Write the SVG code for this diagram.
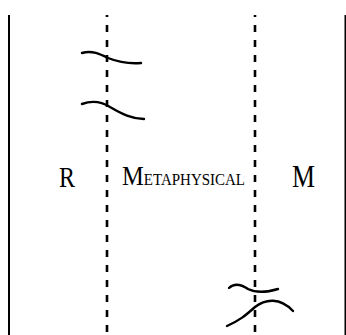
<svg xmlns="http://www.w3.org/2000/svg" width="346" height="335" viewBox="0 0 346 335">
<style>
.solid{stroke:#000;stroke-width:2;fill:none}
.dash{stroke:#000;stroke-width:2.6;fill:none;stroke-dasharray:7 8;stroke-dashoffset:5}
.wave{stroke:#000;stroke-width:2.4;fill:none;stroke-linecap:round}
text{font-family:"Liberation Serif","Times New Roman",serif;fill:#000}
</style>
<rect width="346" height="335" fill="#fff"/>
<g id="borders">
<line id="left-border" class="solid" x1="9" y1="15" x2="9" y2="335"/>
<line id="right-border" class="solid" x1="345.5" y1="15" x2="345.5" y2="335"/>
</g>
<g id="connectors">
<line class="dash" x1="107" y1="15" x2="107" y2="335"/>
<line class="dash" x1="255" y1="15" x2="255" y2="335"/>
<path class="wave" d="M82,53 C92,50 100,54 108,58 C118,62 128,64 141,63"/>
<path class="wave" d="M82,104 C93,100 102,102 110,107 C122,114 132,119 144,119"/>
<path class="wave" d="M229,288 C235,282 242,285 248,289 C256,293 268,292 278,289"/>
<path class="wave" d="M227,326 C240,320 245,316 255,307 C265,299 280,297 293,311"/>
</g>
<g id="label-R"><text x="59" y="186.5" font-size="30" textLength="16" lengthAdjust="spacingAndGlyphs">R</text></g>
<g id="label-Metaphysical"><text x="122" y="185" font-size="27" textLength="123" lengthAdjust="spacingAndGlyphs">M<tspan font-size="16.5">ETAPHYSICAL</tspan></text></g>
<g id="label-M"><text x="292" y="187" font-size="31" textLength="23" lengthAdjust="spacingAndGlyphs">M</text></g>
</svg>
